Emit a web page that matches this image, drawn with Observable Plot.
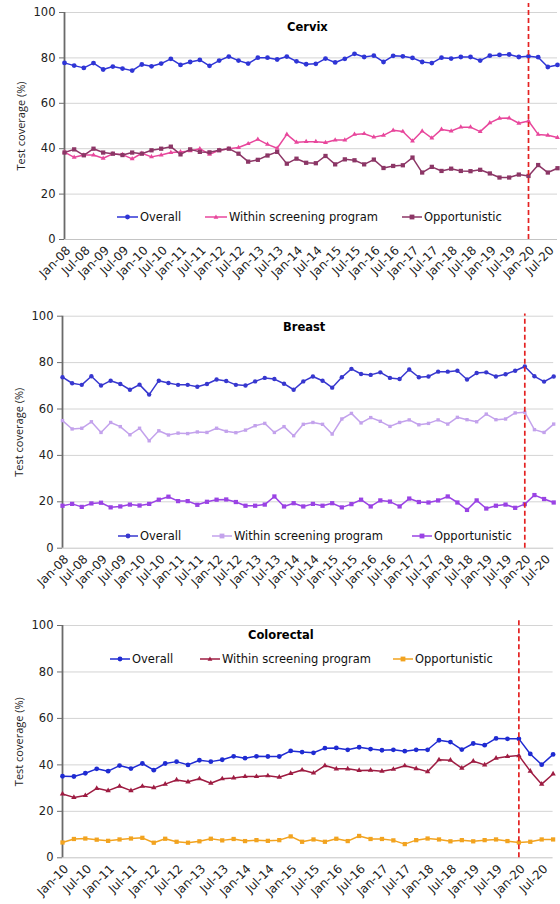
<!DOCTYPE html>
<html><head><meta charset="utf-8">
<script src="https://cdn.jsdelivr.net/npm/d3@7"></script>
<script src="https://cdn.jsdelivr.net/npm/@observablehq/plot@0.6"></script>
<style>
html,body{margin:0;padding:0;background:#fff;overflow:hidden;}
#root{position:relative;width:560px;height:904px;overflow:hidden;font-family:"DejaVu Sans",sans-serif;}
.panel{position:absolute;left:0;width:560px;}
.panel svg{display:block;max-width:none !important;}
.title{position:absolute;font-weight:bold;font-size:11.5px;color:#000;line-height:14px;}
.leg{position:absolute;font-size:11.5px;color:#111;white-space:nowrap;display:flex;align-items:center;line-height:14px;}
.leg svg{margin-right:2px;display:inline-block;}
</style></head><body><div id="root"></div>
<script>
// ---- categories ----
const quarterMonths = ["Jan", "Apr", "Jul", "Oct"];
const yearsScreen = ["08","09","10","11","12","13","14","15","16","17","18","19","20"];
const yearsBowel = ["10","11","12","13","14","15","16","17","18","19","20"];
const seriesNames = ["Overall", "Within screening program", "Opportunistic"];
const yTicks = [0, 20, 40, 60, 80, 100];
const ticksScreen = ["Jan-08","Jul-08","Jan-09","Jul-09","Jan-10","Jul-10","Jan-11","Jul-11","Jan-12","Jul-12","Jan-13","Jul-13","Jan-14","Jul-14","Jan-15","Jul-15","Jan-16","Jul-16","Jan-17","Jul-17","Jan-18","Jul-18","Jan-19","Jul-19","Jan-20","Jul-20"];
const ticksBowel = ["Jan-10","Jul-10","Jan-11","Jul-11","Jan-12","Jul-12","Jan-13","Jul-13","Jan-14","Jul-14","Jan-15","Jul-15","Jan-16","Jul-16","Jan-17","Jul-17","Jan-18","Jul-18","Jan-19","Jul-19","Jan-20","Jul-20"];
const cutoffQuarter = "Jan-20";

// ---- values (quarterly) ----
const cervixOverall = [77.8,76.6,75.6,77.7,74.9,76.2,75.3,74.4,77.1,76.3,77.5,79.6,76.9,78.2,79.1,76.5,78.8,80.6,78.8,77.5,80.1,80.1,79.3,80.6,78.5,77.2,77.4,79.7,78.0,79.6,81.8,80.4,81.0,78.2,80.9,80.7,80.0,78.2,77.7,80.1,79.7,80.4,80.4,78.8,81.0,81.3,81.5,80.4,80.7,80.3,76.0,76.9];
const cervixWithin = [38.5,36.2,37.2,37.2,35.8,37.7,37.4,35.5,38.0,36.4,37.2,38.3,38.6,39.0,40.0,37.5,39.3,40.0,40.5,42.2,44.1,41.9,40.2,46.3,42.8,43.1,43.1,42.7,43.8,43.8,46.3,46.6,45.1,45.9,48.1,47.6,43.4,47.8,44.7,48.5,47.8,49.5,49.5,47.5,51.4,53.4,53.5,51.2,52.2,46.3,45.9,44.9];
const cervixOpp = [38.3,39.7,37.1,40.0,38.3,37.8,37.2,38.3,37.8,39.3,40.0,40.9,37.5,39.7,38.6,38.4,39.3,40.0,37.8,34.3,35.1,37.0,38.6,33.4,35.6,33.8,33.6,36.8,33.1,35.3,34.9,33.1,35.2,31.5,32.4,32.7,36.1,29.5,32.0,30.2,31.2,30.2,30.1,30.7,29.1,27.3,27.3,28.6,28.0,32.8,29.5,31.4];

const breastOverall = [73.7,71.1,70.4,74.1,70.1,72.2,70.8,68.3,70.5,66.2,72.2,71.2,70.4,70.4,69.6,70.8,72.7,72.1,70.4,70.1,71.9,73.4,72.9,70.9,68.3,71.9,74.0,72.2,69.2,73.7,77.3,75.1,74.7,75.8,73.4,72.9,77.0,73.7,74.0,76.1,76.1,76.5,72.7,75.5,75.8,74.0,75.0,76.5,78.3,74.1,71.8,74.0];
const breastWithin = [55.0,51.4,51.7,54.5,49.9,54.2,52.4,48.9,51.7,46.3,50.6,48.8,49.6,49.4,50.1,49.9,51.7,50.4,49.8,50.9,52.8,53.8,49.9,52.4,48.5,53.4,54.2,53.4,49.2,55.7,58.1,54.0,56.3,54.7,52.5,54.2,55.3,53.2,53.8,55.3,53.5,56.4,55.4,54.5,57.8,55.4,55.7,58.3,58.6,51.1,49.9,53.5];
const breastOpp = [18.3,19.1,17.8,19.3,19.6,17.6,18.0,18.8,18.4,19.1,20.9,22.2,20.3,20.3,18.7,20.0,20.9,21.0,19.9,18.3,18.3,18.8,22.3,18.0,19.4,18.0,19.1,18.3,19.4,17.6,19.0,20.9,18.0,20.6,20.1,18.0,21.4,19.9,19.7,20.6,22.3,19.7,16.5,20.6,17.1,18.3,18.8,17.4,19.0,22.9,21.2,19.7];

const bowelOverall = [35.1,35.0,36.4,38.3,37.3,39.7,38.4,40.6,37.7,40.6,41.4,40.0,42.0,41.4,42.2,43.7,42.9,43.7,43.6,43.6,46.0,45.5,45.2,47.2,47.3,46.5,47.6,46.8,46.3,46.5,45.9,46.5,46.5,50.6,49.8,46.6,49.2,48.5,51.4,51.2,51.2,44.7,40.1,44.5];
const bowelWithin = [27.5,26.0,26.8,29.9,28.9,30.8,28.9,30.8,30.2,31.7,33.5,32.7,34.0,32.1,34.0,34.4,35.0,35.0,35.3,34.7,36.3,37.8,36.5,39.7,38.3,38.3,37.6,37.7,37.3,38.1,39.6,38.4,37.1,42.2,42.0,38.6,41.6,40.0,42.9,43.6,44.0,37.3,31.7,36.1];
const bowelOpp = [6.6,8.1,8.3,7.8,7.3,7.9,8.3,8.6,6.5,8.2,6.9,6.5,7.1,8.2,7.5,8.1,7.2,7.6,7.3,7.6,9.2,6.9,7.9,6.9,8.2,7.2,9.4,8.1,8.1,7.5,5.9,7.6,8.3,7.9,7.1,7.6,7.1,7.6,7.9,7.2,6.6,6.9,7.9,7.9];

function quarters(years) {
  const out = [];
  for (const y of years) for (const m of quarterMonths) out.push(m + "-" + y);
  return out;
}

const panels = [
  {title: "Cervix", top: 0, height: 300, mt: 12, mb: 61, ml: 64, mr: 3,
   quarters: quarters(yearsScreen), ticks: ticksScreen,
   values: [cervixOverall, cervixWithin, cervixOpp],
   colors: ["#2f35d6", "#e8479c", "#8c3666"],
   symbols: ["circle", "triangle", "square"], radii: [2.4, 1.8, 2.4],
   titlePos: [287, 20], cutTop: 104,
   legend: {y: 210, items: [[117, 21], [205, 22], [402, 20]]}},
  {title: "Breast", top: 300, height: 300, mt: 15.7, mb: 52.3, ml: 62, mr: 6.8,
   quarters: quarters(yearsScreen), ticks: ticksScreen,
   values: [breastOverall, breastWithin, breastOpp],
   colors: ["#3737cf", "#c3a2ec", "#9a43e4"],
   symbols: ["circle", "square", "square"], radii: [2.2, 1.9, 2.4],
   titlePos: [283, 20], cutTop: 101,
   legend: {y: 229, items: [[118, 20], [212, 20], [412, 20]]}},
  {title: "Colorectal", top: 600, height: 304, mt: 25, mb: 46.7, ml: 62, mr: 7.4,
   quarters: quarters(yearsBowel), ticks: ticksBowel,
   values: [bowelOverall, bowelWithin, bowelOpp],
   colors: ["#1f2bd2", "#9e1c42", "#f2a31f"],
   symbols: ["circle", "triangle", "square"], radii: [2.4, 2.0, 2.4],
   titlePos: [248, 28], cutTop: 103,
   legend: {y: 52, items: [[110, 20], [200, 20], [393, 20]]}}
];

function swatch(color, symbol, w) {
  const mid = w / 2;
  let mk;
  if (symbol === "circle") mk = `<circle cx="${mid}" cy="5" r="2.4" fill="${color}"/>`;
  else if (symbol === "square") mk = `<rect x="${mid-2.4}" y="2.6" width="4.8" height="4.8" fill="${color}"/>`;
  else mk = `<path d="M${mid},2.6L${mid+2.4},6.8L${mid-2.4},6.8Z" fill="${color}"/>`;
  return `<svg width="${w}" height="10"><line x1="0" y1="5" x2="${w}" y2="5" stroke="${color}" stroke-width="1.5"/>${mk}</svg>`;
}

const root = document.getElementById("root");
for (const cfg of panels) {
  const rows = [];
  cfg.values.forEach((vals, k) => vals.forEach((v, i) => rows.push({q: cfg.quarters[i], v, s: seriesNames[k]})));
  const axisStart = [cfg.quarters[0]];
  const marks = [
    Plot.gridY([20, 40, 60, 80, 100], {stroke: "#d4d4d4", strokeOpacity: 1}),
    Plot.ruleY([0], {stroke: "#c4c4c4"}),
    Plot.ruleX(axisStart, {x: d => d, y1: 0, y2: 100, stroke: "#6a6a6a", strokeWidth: 1.8}),
    Plot.axisY({ticks: yTicks, tickSize: 5, tickPadding: 4, label: null, stroke: "#6e6e6e"}),
    Plot.axisX({ticks: cfg.ticks, tickRotate: -45, tickSize: 0, tickPadding: 9, dx: 4, label: null, fontSize: 12}),
    Plot.text(["Test coverage (%)"], {frameAnchor: "left", rotate: -90, dx: -43, textAnchor: "middle",
      fontFamily: "Open Sans", fontSize: 11, fill: "#222"}),
    Plot.line(rows, {x: "q", y: "v", z: "s", stroke: "s", strokeWidth: 1.5})
  ];
  seriesNames.forEach((name, k) => {
    marks.push(Plot.dot(rows, {filter: d => d.s === name, x: "q", y: "v", fill: cfg.colors[k],
      symbol: cfg.symbols[k], r: cfg.radii[k], stroke: "none"}));
  });
  marks.push(Plot.ruleX([cutoffQuarter], {y1: 0, y2: cfg.cutTop, stroke: "#e42222", strokeWidth: 1.7, strokeDasharray: "5,3"}));
  const chart = Plot.plot({
    width: 560, height: cfg.height,
    marginTop: cfg.mt, marginBottom: cfg.mb, marginLeft: cfg.ml, marginRight: cfg.mr,
    style: {fontFamily: "DejaVu Sans", fontSize: "11.5px", color: "#222", background: "transparent"},
    x: {type: "point", domain: cfg.quarters, padding: 0, round: false, axis: null},
    y: {domain: [0, 100], axis: null},
    color: {domain: seriesNames, range: cfg.colors},
    marks
  });
  const div = document.createElement("div");
  div.className = "panel";
  div.style.top = cfg.top + "px";
  div.style.height = cfg.height + "px";
  div.appendChild(chart);
  const t = document.createElement("div");
  t.className = "title";
  t.style.left = cfg.titlePos[0] + "px";
  t.style.top = cfg.titlePos[1] + "px";
  t.textContent = cfg.title;
  div.appendChild(t);
  seriesNames.forEach((name, k) => {
    const l = document.createElement("div");
    l.className = "leg";
    l.style.left = cfg.legend.items[k][0] + "px";
    l.style.top = cfg.legend.y + "px";
    l.innerHTML = swatch(cfg.colors[k], cfg.symbols[k], cfg.legend.items[k][1]) + `<span>${name}</span>`;
    div.appendChild(l);
  });
  root.appendChild(div);
}
</script></body></html>
